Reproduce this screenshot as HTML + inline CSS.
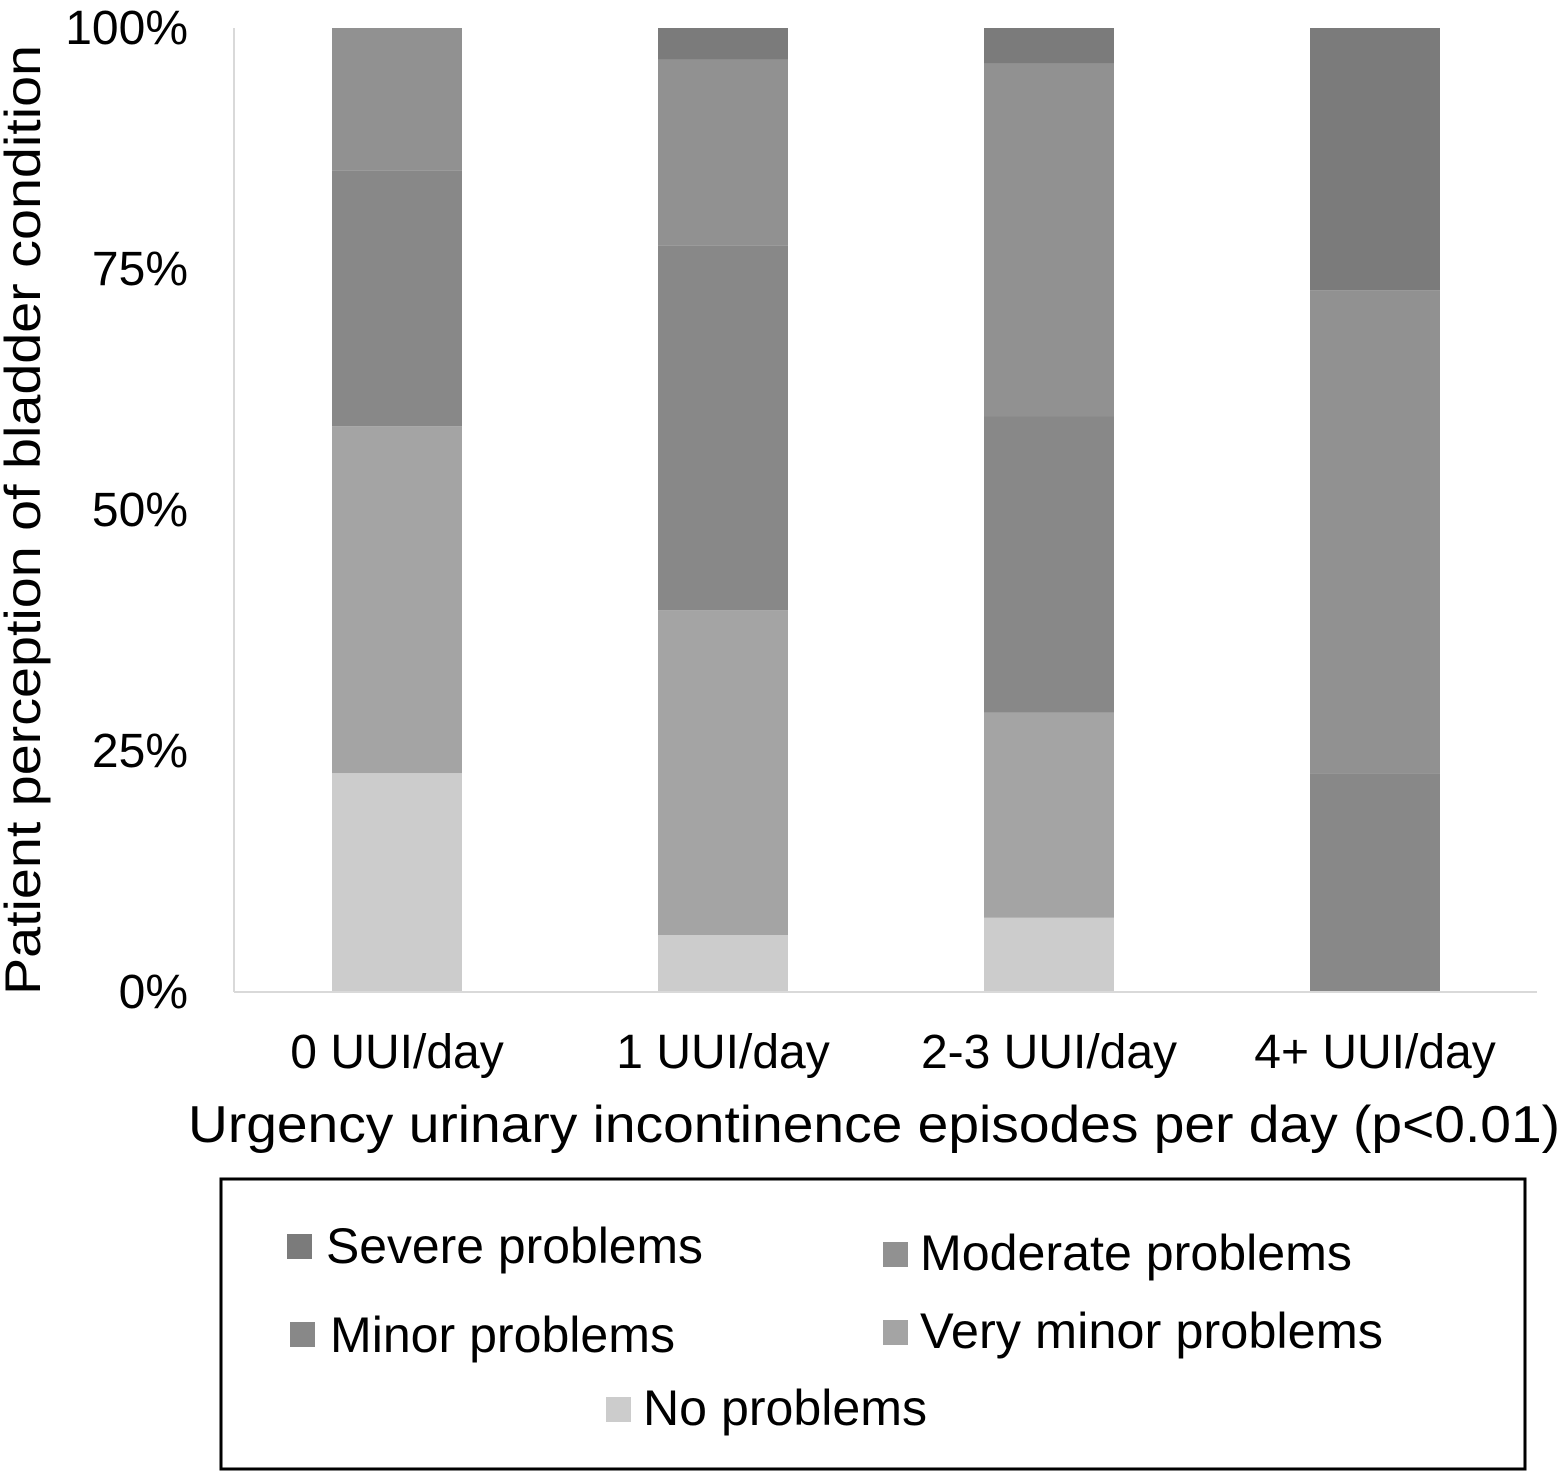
<!DOCTYPE html>
<html><head><meta charset="utf-8"><style>
html,body{margin:0;padding:0;background:#fff;}
svg{display:block;font-family:"Liberation Sans",Arial,sans-serif;}
</style></head><body>
<svg id="chart" width="1568" height="1475" viewBox="0 0 1568 1475" xmlns="http://www.w3.org/2000/svg">
<g id="bars"></g>
<line x1="234" y1="28" x2="234" y2="992" stroke="#d9d9d9" stroke-width="2"/>
<line x1="234" y1="992" x2="1537" y2="992" stroke="#d9d9d9" stroke-width="2"/>
<g id="yticks"></g>
<g id="xticks"></g>
<text transform="translate(40,520) rotate(-90)" text-anchor="middle" font-size="50" textLength="950" lengthAdjust="spacingAndGlyphs">Patient perception of bladder condition</text>
<text x="188" y="1142" font-size="52" textLength="1372" lengthAdjust="spacingAndGlyphs">Urgency urinary incontinence episodes per day (p&lt;0.01)</text>
<rect x="221" y="1179" width="1304" height="290" fill="none" stroke="#000" stroke-width="3"/>
<g><rect x="287" y="1234" width="25" height="25" fill="#7b7b7b"/><text x="326" y="1263" font-size="50" textLength="377" lengthAdjust="spacingAndGlyphs">Severe problems</text></g>
<g><rect x="883" y="1242" width="25" height="25" fill="#919191"/><text x="920" y="1270" font-size="50" textLength="432" lengthAdjust="spacingAndGlyphs">Moderate problems</text></g>
<g><rect x="290" y="1322" width="25" height="25" fill="#888888"/><text x="330" y="1352" font-size="50" textLength="345" lengthAdjust="spacingAndGlyphs">Minor problems</text></g>
<g><rect x="883" y="1320" width="25" height="25" fill="#a4a4a4"/><text x="920" y="1348" font-size="50" textLength="463" lengthAdjust="spacingAndGlyphs">Very minor problems</text></g>
<g><rect x="606" y="1397" width="25" height="25" fill="#cccccc"/><text x="643" y="1425" font-size="50" textLength="284" lengthAdjust="spacingAndGlyphs">No problems</text></g>
</svg>
<script>
const categories = ["0 UUI/day", "1 UUI/day", "2-3 UUI/day", "4+ UUI/day"];
const seriesNames = ["No problems", "Very minor problems", "Minor problems", "Moderate problems", "Severe problems"];
const noProblems = [22.7, 5.9, 7.7, 0];
const veryMinor = [36.0, 33.7, 21.3, 0];
const minor = [26.5, 37.8, 30.7, 22.7];
const moderate = [14.8, 19.3, 36.6, 50.1];
const severe = [0, 3.3, 3.7, 27.2];
const yTicks = [0, 25, 50, 75, 100];
const yTickLabels = ["0%", "25%", "50%", "75%", "100%"];

const NS = "http://www.w3.org/2000/svg";
const colors = ["#cccccc", "#a4a4a4", "#888888", "#919191", "#7b7b7b"];
const series = [noProblems, veryMinor, minor, moderate, severe];
const y0 = 992, y1 = 28;
function yScale(v){ return y0 - (v/100)*(y0-y1); }
function xCenter(i){ return 397 + i*326; }
const barW = 130;

const bars = document.getElementById('bars');
categories.forEach((c, i) => {
  let acc = 0;
  series.forEach((s, k) => {
    const v = s[i];
    if (v <= 0) { return; }
    const top = yScale(acc + v), bot = yScale(acc);
    const r = document.createElementNS(NS, 'rect');
    r.setAttribute('x', xCenter(i) - barW/2);
    r.setAttribute('y', top);
    r.setAttribute('width', barW);
    r.setAttribute('height', bot - top);
    r.setAttribute('fill', colors[k]);
    
    
    bars.appendChild(r);
    acc += v;
  });
});

const yt = document.getElementById('yticks');
yTicks.forEach((t, i) => {
  const tx = document.createElementNS(NS, 'text');
  tx.setAttribute('x', 188);
  tx.setAttribute('y', yScale(t) + 16);
  tx.setAttribute('text-anchor', 'end');
  tx.setAttribute('font-size', '48');
  tx.textContent = yTickLabels[i];
  
  
  yt.appendChild(tx);
});

const xt = document.getElementById('xticks');
categories.forEach((c, i) => {
  const tx = document.createElementNS(NS, 'text');
  tx.setAttribute('x', xCenter(i));
  tx.setAttribute('y', 1068);
  tx.setAttribute('text-anchor', 'middle');
  tx.setAttribute('font-size', '48');
  tx.textContent = c;
  
  
  xt.appendChild(tx);
});
</script>
</body></html>
